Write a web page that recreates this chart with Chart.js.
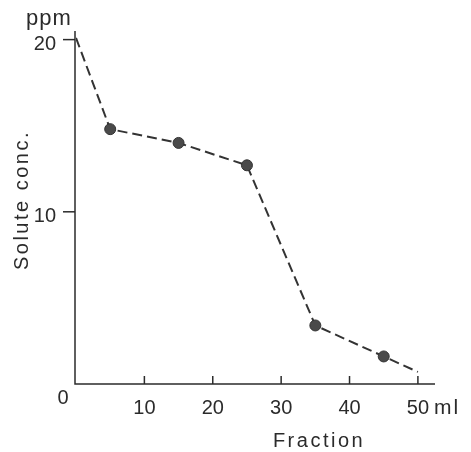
<!DOCTYPE html>
<html>
<head>
<meta charset="utf-8">
<script src="https://cdn.jsdelivr.net/npm/chart.js@4.4.1/dist/chart.umd.min.js"></script>
<style>
html,body{margin:0;padding:0;background:#fff;}
#wrap{width:471px;height:452px;position:relative;}
</style>
</head>
<body>
<div id="wrap"><canvas id="c" width="471" height="452"></canvas></div>
<script>
const fraction = [0, 5, 15, 25, 35, 45, 50];
const conc = [20.1, 14.8, 14.0, 12.7, 3.4, 1.6, 0.7];
const markerShown = [false, true, true, true, true, true, false];
const xTicks = [10, 20, 30, 40, 50];
const yTicks = [10, 20];
const xUnit = "ml";
const yUnit = "ppm";
const xTitle = "Fraction";
const yTitle = "Solute conc.";

const INK = "#2b2b2b";
const FONT = '"Liberation Sans", Arial, sans-serif';

const axesPlugin = {
  id: 'axesPlugin',
  afterDraw(chart) {
    const ctx = chart.ctx;
    const xs = chart.scales.x, ys = chart.scales.y;
    const x0 = xs.getPixelForValue(0) - 1;
    const y0 = ys.getPixelForValue(0);
    const xEnd = xs.getPixelForValue(xs.max);
    const yTop = ys.getPixelForValue(ys.max);
    ctx.save();
    ctx.strokeStyle = INK;
    ctx.lineWidth = 1.5;
    ctx.beginPath();
    ctx.moveTo(x0, yTop);
    ctx.lineTo(x0, y0);
    ctx.lineTo(xEnd, y0);
    ctx.stroke();
    // x ticks (inward)
    ctx.fillStyle = INK;
    ctx.font = '20px ' + FONT;
    ctx.textAlign = 'center';
    ctx.textBaseline = 'middle';
    xTicks.forEach(v => {
      const px = xs.getPixelForValue(v);
      ctx.beginPath();
      ctx.moveTo(px, y0);
      ctx.lineTo(px, y0 - 8);
      ctx.stroke();
      ctx.fillText(String(v), px, y0 + 24);
    });
    // unit after last tick
    const lastPx = xs.getPixelForValue(xTicks[xTicks.length - 1]);
    ctx.textAlign = 'left';
    ctx.font = '21px ' + FONT;
    ctx.letterSpacing = '2px';
    ctx.fillText(xUnit, lastPx + 16, y0 + 24);
    ctx.letterSpacing = '0px';
    ctx.font = '20px ' + FONT;
    // origin label
    ctx.textAlign = 'center';
    ctx.fillText('0', x0 - 12, y0 + 14);
    // y ticks (outward)
    ctx.textAlign = 'right';
    yTicks.forEach(v => {
      const py = ys.getPixelForValue(v);
      ctx.beginPath();
      ctx.moveTo(x0, py);
      ctx.lineTo(x0 - 12, py);
      ctx.stroke();
      ctx.fillText(String(v), x0 - 19, py + 5);
    });
    // y unit
    ctx.textAlign = 'left';
    ctx.font = '22px ' + FONT;
    ctx.letterSpacing = '1px';
    ctx.fillText(yUnit, 26, 19);
    // x title
    ctx.font = '20px ' + FONT;
    ctx.letterSpacing = '2.5px';
    ctx.textAlign = 'center';
    ctx.fillText(xTitle, 319, 441);
    // y title
    ctx.letterSpacing = '2.5px';
    ctx.translate(22, 200);
    ctx.rotate(-Math.PI / 2);
    ctx.fillText(yTitle, 0, 0);
    ctx.restore();
  }
};

new Chart(document.getElementById('c'), {
  type: 'line',
  data: {
    datasets: [{
      data: fraction.map((x, i) => ({x: x, y: conc[i]})),
      borderColor: '#333',
      borderWidth: 2,
      borderDash: [10, 5],
      pointRadius: markerShown.map(s => s ? 5.5 : 0),
      pointBackgroundColor: '#4a4a4a',
      pointBorderColor: '#333',
      pointBorderWidth: 1,
      tension: 0,
      fill: false
    }]
  },
  options: {
    responsive: false,
    animation: false,
    layout: { padding: { left: 76, right: 36, top: 31, bottom: 68 } },
    plugins: { legend: { display: false }, tooltip: { enabled: false } },
    scales: {
      x: { type: 'linear', min: 0, max: 52.5, display: false },
      y: { type: 'linear', min: 0, max: 20.5, display: false }
    }
  },
  plugins: [axesPlugin]
});
</script>
</body>
</html>
